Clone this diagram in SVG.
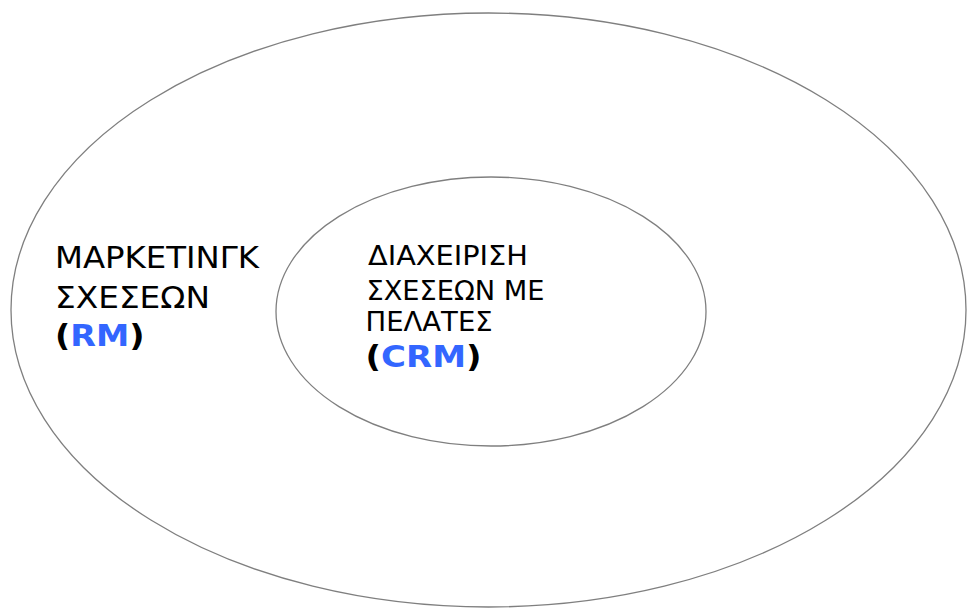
<svg xmlns="http://www.w3.org/2000/svg" width="968" height="609" viewBox="0 0 968 609">
  <style>
    .ring { fill: none; stroke: #7f7f7f; stroke-width: 1.3; }
    .lbl { font-family: "DejaVu Sans", Verdana, sans-serif; fill: #000000; }
    .outer { font-size: 29.5px; }
    .inner { font-size: 26.5px; }
    .bold { font-weight: bold; }
    .outer.bold { font-size: 30px; }
    .inner.bold { font-size: 30.5px; }
    .acr { fill: #3366ff; }
  </style>
  <rect width="968" height="609" fill="#ffffff"/>

  <!-- Relationship marketing: the enclosing set -->
  <g id="rm">
    <ellipse class="ring" cx="488.5" cy="310" rx="477.5" ry="297"/>
    <!-- labels are set in a slightly widened face -->
    <g transform="scale(1.115,1)">
      <text class="lbl outer" x="49.3" y="268" textLength="183" lengthAdjust="spacingAndGlyphs">ΜΑΡΚΕΤΙΝΓΚ</text>
      <text class="lbl outer" x="49.3" y="308" textLength="139" lengthAdjust="spacingAndGlyphs">ΣΧΕΣΕΩΝ</text>
      <text class="lbl outer bold" x="49.3" y="346">(</text>
      <text class="lbl outer bold acr" x="63" y="346">RM</text>
      <text class="lbl outer bold" x="116" y="346">)</text>
    </g>
  </g>

  <!-- Customer relationship management: the subset inside -->
  <g id="crm">
    <ellipse class="ring" cx="491" cy="311.5" rx="215" ry="134.5"/>
    <g transform="scale(1.115,1)">
      <text class="lbl inner" x="330" y="265.5" textLength="143.5" lengthAdjust="spacingAndGlyphs">ΔΙΑΧΕΙΡΙΣΗ</text>
      <text class="lbl inner" x="328.7" y="300" textLength="159.6" lengthAdjust="spacingAndGlyphs">ΣΧΕΣΕΩΝ ΜΕ</text>
      <text class="lbl inner" x="327.8" y="331.5" textLength="114" lengthAdjust="spacingAndGlyphs">ΠΕΛΑΤΕΣ</text>
      <text class="lbl inner bold" x="327.8" y="367">(</text>
      <text class="lbl inner bold acr" x="341.7" y="367">CRM</text>
      <text class="lbl inner bold" x="417.9" y="367">)</text>
    </g>
  </g>
</svg>
